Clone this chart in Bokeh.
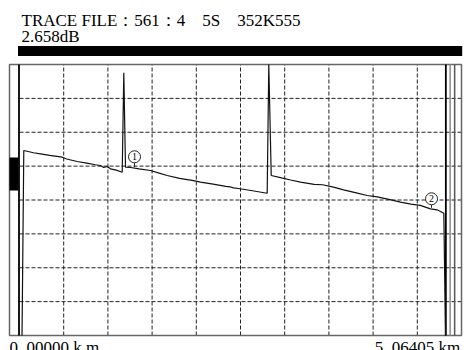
from bokeh.plotting import figure
from bokeh.models import Range1d
from bokeh.core.properties import value
from bokeh.embed import file_html
from bokeh.resources import INLINE

# ---------------- data ----------------
title_line1 = "TRACE FILE：561：4　5S　352K555"
title_line2 = "2.658dB"
start_label = "0. 00000 k m"
end_label = "5. 06405  km"

distance_km = [0.030, 0.051, 0.166, 0.249, 0.360, 0.507, 0.560, 0.685, 0.800, 0.900,
               0.962, 1.000, 1.040, 1.081, 1.150, 1.220, 1.239, 1.259, 1.320, 1.420,
               1.556, 1.650, 1.754, 1.900, 2.050, 2.150, 2.300, 2.450, 2.500, 2.542,
               2.600, 2.750, 2.942, 2.961, 2.990, 3.100, 3.220, 3.338, 3.500, 3.600,
               3.730, 3.850, 4.000, 4.130, 4.250, 4.400, 4.525, 4.650, 4.760, 4.882,
               4.960, 5.040, 5.060]
level_db = [0.0, 27.31, 26.97, 26.82, 26.60, 26.32, 26.05, 25.68, 25.45, 25.20,
            25.09, 24.80, 24.95, 24.60, 24.40, 24.10, 38.77, 24.84, 24.80, 24.60,
            24.35, 24.00, 23.62, 23.20, 22.90, 22.63, 22.35, 22.00, 21.95, 21.80,
            21.70, 21.40, 21.00, 40.00, 23.62, 23.30, 22.95, 22.63, 22.30, 22.25,
            21.89, 21.50, 21.05, 20.66, 20.45, 20.05, 19.68, 19.40, 19.20, 18.70,
            18.55, 18.05, 0.0]

event_labels = ["1", "2"]
event_km = [1.366, 4.894]
event_db = [26.38, 20.18]
event_stem_db = [24.85, 18.85]

cursor_start_km = 0.0
cursor_end_km = 5.06405
x_div_km = 0.525
y_div_db = 5.0
n_xdiv = 10
n_ydiv = 8

# ---------------- layout ----------------
PX_PER_KM = 44.2 / x_div_km
PX_PER_DB = 271.0 / (n_ydiv * y_div_db)
W, H = 467, 350
x_left_px = 19.0          # screen px from canvas left to 0 km
y_bottom_px = 335.0       # screen px from canvas top to 0 dB

x_start = -x_left_px / PX_PER_KM
x_end = (W - x_left_px) / PX_PER_KM
y_top = y_bottom_px / PX_PER_DB
y_bot = -(H - y_bottom_px) / PX_PER_DB

X0 = -10.0 / PX_PER_KM               # outer frame left
X1 = n_xdiv * x_div_km               # outer frame right
Y1 = n_ydiv * y_div_db

def km(px):  # screen offset -> km
    return px / PX_PER_KM

def db(px):
    return px / PX_PER_DB

p = figure(width=W, height=H, output_backend="svg", toolbar_location=None,
           x_range=Range1d(x_start, x_end), y_range=Range1d(y_bot, y_top),
           x_axis_location=None, y_axis_location=None, min_border=0)
p.grid.visible = False
p.outline_line_color = None
p.background_fill_color = "white"
p.border_fill_color = "white"

serif = value("Liberation Serif")

# grid
gx = [k * x_div_km for k in range(1, n_xdiv)]
p.segment(x0=gx, y0=[0] * len(gx), x1=gx, y1=[Y1] * len(gx),
          line_color="#222222", line_width=1, line_dash="4 2")
gy = [k * y_div_db for k in range(1, n_ydiv)]
p.segment(x0=[0] * len(gy), y0=gy, x1=[X1] * len(gy), y1=gy,
          line_color="#222222", line_width=1, line_dash="4 2")

# outer frame
p.quad(left=[X0], right=[X1], bottom=[0], top=[Y1], fill_color=None,
       line_color="#666666", line_width=1.5)

# right side guide lines
p.segment(x0=[cursor_end_km + km(4.3), cursor_end_km + km(8.8)], y0=[0, 0],
          x1=[cursor_end_km + km(4.3), cursor_end_km + km(8.8)], y1=[Y1, Y1],
          line_color=["#8a8a8a", "#555555"], line_width=1.5)

# cursors
p.segment(x0=[cursor_start_km - km(0.5), cursor_end_km], y0=[0, 0],
          x1=[cursor_start_km - km(0.5), cursor_end_km], y1=[Y1, Y1],
          line_color="black", line_width=1.8)

# left level marker block
p.quad(left=[X0], right=[-km(1.0)], bottom=[db(145)], top=[db(178)],
       fill_color="black", line_color=None)

# trace
p.line(distance_km, level_db, line_color="#111111", line_width=1.2)

# event markers
r = db(6.0)
p.segment(x0=event_km, y0=[d - r for d in event_db], x1=event_km, y1=event_stem_db,
          line_color="#222222", line_width=1)
p.scatter(event_km, event_db, marker="circle", size=12, fill_color="white",
          line_color="#222222", line_width=1)
p.text(event_km, event_db, text=event_labels, text_align="center",
       text_baseline="middle", text_font=serif, text_font_size="10px",
       text_color="black")

# header
p.text([km(2)], [Y1 + db(43.8)], text=[title_line1], text_font=serif,
       text_font_size="17px", text_baseline="alphabetic", text_color="black")
p.text([km(2)], [Y1 + db(27.8)], text=[title_line2], text_font=serif,
       text_font_size="17px", text_baseline="alphabetic", text_color="black")
p.quad(left=[-km(1.5)], right=[X1 + km(0.7)], bottom=[Y1 + db(8.5)],
       top=[Y1 + db(18.5)], fill_color="black", line_color=None)

# footer labels
p.text([X0], [-db(2.0)], text=[start_label], text_font=serif, text_font_size="17px",
       text_baseline="top", text_align="left", text_color="black")
p.text([x_end - km(3)], [-db(2.0)], text=[end_label], text_font=serif,
       text_font_size="17px", text_baseline="top", text_align="right",
       text_color="black")

open("out.html", "w").write(file_html(p, INLINE))
